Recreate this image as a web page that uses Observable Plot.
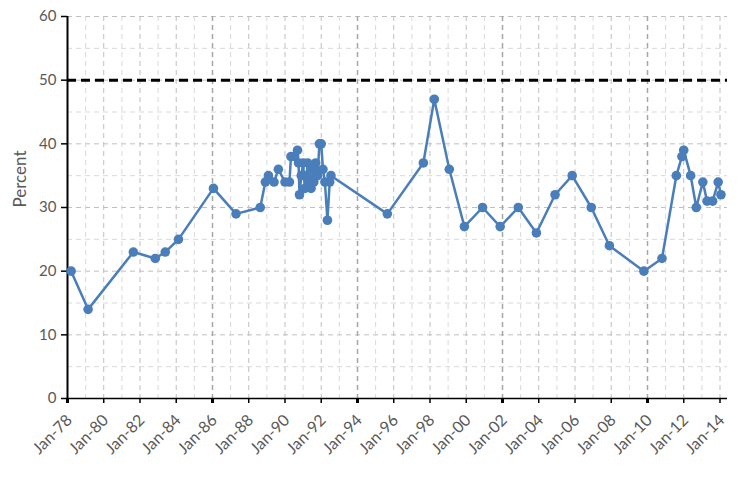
<!DOCTYPE html>
<html>
<head>
<meta charset="utf-8">
<script src="https://cdn.jsdelivr.net/npm/d3@7"></script>
<script src="https://cdn.jsdelivr.net/npm/@observablehq/plot@0.6"></script>
<style>
  html, body { margin: 0; padding: 0; background: #fff; }
</style>
</head>
<body>
<div id="chart"></div>
<script>
const dates = [
  "1978-03-15","1979-02-20","1981-08-20","1982-11-05","1983-05-25","1984-02-15",
  "1986-01-20","1987-04-20","1988-08-20","1988-12-01","1989-02-01","1989-05-25",
  "1989-08-20","1990-01-01","1990-04-01","1990-05-01","1990-07-10","1990-09-10",
  "1990-10-01","1990-10-20","1990-11-25","1991-01-01","1991-02-05","1991-03-15",
  "1991-04-01","1991-05-05","1991-06-10","1991-07-15","1991-08-05","1991-09-10",
  "1991-10-20","1991-11-25","1992-01-01","1992-02-05","1992-03-15","1992-05-05",
  "1992-06-20","1992-07-15","1995-08-25","1997-08-20","1998-03-28","1999-01-25",
  "1999-11-25","2000-11-25","2001-11-15","2002-11-15","2003-11-15","2004-11-25",
  "2005-11-05","2006-11-25","2007-11-25","2009-10-20","2010-10-20","2011-08-05",
  "2011-11-25","2012-01-01","2012-05-20","2012-09-10","2013-01-20","2013-04-15",
  "2013-08-05","2013-11-25","2014-01-20"
];
const percent = [
  20,14,23,22,23,25,
  33,29,30,34,35,34,
  36,34,34,38,38,39,
  37,32,35,37,33,35,
  37,34,33,36,34,37,
  35,40,40,36,34,28,
  34,35,29,37,47,36,
  27,30,27,30,26,32,
  35,30,24,20,22,35,
  38,39,35,30,34,31,
  31,34,32
];
const yTicks = [0, 10, 20, 30, 40, 50, 60];
const yMinor = [5, 15, 25, 35, 45, 55];
const threshold = 50;
const xStart = "1978-01-01", xEnd = "2014-06-01";

const data = dates.map((d, i) => ({date: new Date(d), value: percent[i]}));
const allYears = d3.utcYear.range(new Date("1979-01-01"), new Date("2015-01-01"));
const everyTwo = allYears.filter(d => d.getUTCFullYear() % 2 === 0);
const oddYears = allYears.filter(d => d.getUTCFullYear() % 2 === 1);
const majorYears = everyTwo.filter(d => (d.getUTCFullYear() - 1978) % 8 === 0);
const minorTwo = everyTwo.filter(d => (d.getUTCFullYear() - 1978) % 8 !== 0);
const xTicks = d3.utcYear.range(new Date("1978-01-01"), new Date("2015-01-01"), 2);
const xMajorTicks = xTicks.filter(d => (d.getUTCFullYear() - 1978) % 8 === 0);

const chart = Plot.plot({
  width: 740,
  height: 483,
  marginLeft: 67,
  marginRight: 13,
  marginTop: 16,
  marginBottom: 85,
  style: {fontFamily: "Lato, 'Open Sans', sans-serif", fontSize: "15px", color: "#595959", background: "#fff"},
  x: {type: "utc", domain: [new Date(xStart), new Date(xEnd)]},
  y: {domain: [0, 60]},
  marks: [
    Plot.ruleY(yMinor, {stroke: "#d9d9d9", strokeWidth: 1, strokeDasharray: "5,4"}),
    Plot.ruleY(yTicks.filter(v => v > 0), {stroke: "#bfbfbf", strokeWidth: 1, strokeDasharray: "5,4"}),
    Plot.ruleX(oddYears, {stroke: "#d9d9d9", strokeWidth: 1, strokeDasharray: "5,4"}),
    Plot.ruleX(minorTwo, {stroke: "#bfbfbf", strokeWidth: 1, strokeDasharray: "5,4"}),
    Plot.ruleX(majorYears.filter(d => d.getUTCFullYear() > 1978), {stroke: "#a6a6a6", strokeWidth: 1.5, strokeDasharray: "5,4"}),
    Plot.ruleY([threshold], {stroke: "black", strokeWidth: 3, strokeDasharray: "9,5"}),
    Plot.ruleY([0], {stroke: "black", strokeWidth: 1.5}),
    Plot.ruleX([new Date(xStart)], {stroke: "black", strokeWidth: 2}),
    Plot.axisY({ticks: yTicks, tickSize: 6, tickPadding: 5, stroke: "black", strokeWidth: 1.5, fill: "#595959", fontSize: 15, label: null}),
    Plot.axisX({ticks: xTicks, tickSize: 5, stroke: "black", strokeWidth: 1.5, tickFormat: () => "", label: null}),
    Plot.axisX({ticks: xMajorTicks, tickSize: 5, stroke: "black", strokeWidth: 3, tickFormat: () => "", label: null}),
    Plot.axisX({ticks: xTicks, tickSize: 0, tickPadding: 13, tickRotate: -45, fill: "#595959", fontSize: 16,
      dx: 2, dy: 6, tickFormat: d => "Jan-" + d3.utcFormat("%y")(d), label: null}),
    Plot.text(["Percent"], {frameAnchor: "left", rotate: -90, dx: -47, fontSize: 17, fill: "#595959"}),
    Plot.line(data, {x: "date", y: "value", stroke: "#4a7ebb", strokeWidth: 2.5}),
    Plot.dot(data, {x: "date", y: "value", r: 4.8, fill: "#4a7ebb"})
  ]
});
document.getElementById("chart").appendChild(chart);
</script>
</body>
</html>
